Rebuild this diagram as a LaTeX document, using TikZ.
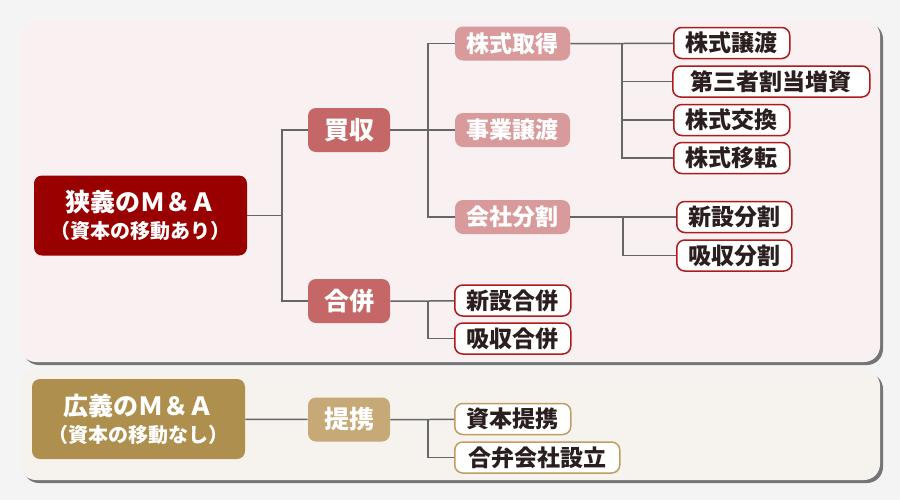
\documentclass[tikz,border=0pt]{standalone}
\usepackage{fontspec}
\setmainfont{Noto Sans CJK JP}
\usetikzlibrary{shadows}
\definecolor{bggray}{HTML}{F4F4F4}
\definecolor{panelred}{HTML}{F9F0F1}
\definecolor{panelgold}{HTML}{F6F3EE}
\definecolor{deepred}{HTML}{990000}
\definecolor{midred}{HTML}{C56767}
\definecolor{palered}{HTML}{D89A9B}
\definecolor{leafred}{HTML}{AD1C1C}
\definecolor{deepgold}{HTML}{AF8F4E}
\definecolor{midgold}{HTML}{C6A977}
\definecolor{leafgold}{HTML}{C09D62}
\definecolor{linegray}{HTML}{666666}
\definecolor{inkdark}{HTML}{2B1E1E}
\tikzset{
  panel/.style={rounded corners=8pt, drop shadow={shadow xshift=1.5pt, shadow yshift=-1.5pt, opacity=0.7, fill=black!75}},
  topbox/.style={rounded corners=4pt, text=white, align=center, font=\bfseries, minimum width=106.5pt, minimum height=40pt, inner sep=0pt},
  midbox/.style={rounded corners=4pt, text=white, font=\bfseries\fontsize{12.5}{14}\selectfont, minimum width=41pt, minimum height=22pt, inner sep=0pt},
  subbox/.style={rounded corners=4pt, fill=palered, text=white, font=\bfseries\fontsize{11.5}{13}\selectfont, minimum width=57.5pt, minimum height=17pt, inner sep=0pt},
  leafbox/.style={rounded corners=4pt, fill=white, draw=#1, line width=0.75pt, text=inkdark, font=\bfseries\fontsize{11.5}{13}\selectfont, minimum height=15.5pt, inner sep=0pt, anchor=west},
  conn/.style={draw=linegray, line width=0.75pt}
}
\begin{document}
\begin{tikzpicture}[x=0.5pt, y=-0.5pt]
\useasboundingbox (0,0) rectangle (900,500);
\fill[bggray] (0,0) rectangle (900,500);
\fill[panelred, panel] (20,20) rectangle (880,362);
\fill[panelgold, panel] (20,370) rectangle (880,480);

\node[topbox, fill=deepred] (narrow) at (140.5,215.5) {{\fontsize{12.5}{14}\selectfont 狭義のＭ＆Ａ}\\[1.5pt]{\fontsize{10}{11}\selectfont （資本の移動あり）}};
\node[midbox, fill=midred] (kaishu) at (349,130) {買収};
\node[midbox, fill=midred] (gappei) at (349,301) {合併};
\node[subbox] (kabushu) at (512.5,43.5) {株式取得};
\node[subbox] (jigyo) at (512.5,130) {事業譲渡};
\node[subbox] (bunkatsu) at (512.5,217) {会社分割};
\node[leafbox=leafred, minimum width=58pt] (joto) at (673,43) {株式譲渡};
\node[leafbox=leafred, minimum width=98.5pt] (zoshi) at (672,81.5) {第三者割当増資};
\node[leafbox=leafred, minimum width=58pt] (kokan) at (673,120) {株式交換};
\node[leafbox=leafred, minimum width=58pt] (iten) at (673,158) {株式移転};
\node[leafbox=leafred, minimum width=57.5pt] (shinbun) at (676,217) {新設分割};
\node[leafbox=leafred, minimum width=57.5pt] (kyubun) at (676,255.5) {吸収分割};
\node[leafbox=leafred, minimum width=58pt] (shingap) at (454,300.5) {新設合併};
\node[leafbox=leafred, minimum width=58pt] (kyugap) at (454,338.5) {吸収合併};

\node[topbox, fill=deepgold] (broad) at (138.5,419) {{\fontsize{12.5}{14}\selectfont 広義のＭ＆Ａ}\\[1.5pt]{\fontsize{10}{11}\selectfont （資本の移動なし）}};
\node[midbox, fill=midgold] (teikei) at (349,419.5) {提携};
\node[leafbox=leafgold, minimum width=58pt] (shihon) at (454,419) {資本提携};
\node[leafbox=leafgold, minimum width=82.5pt] (goben) at (454,457.5) {合弁会社設立};

\coordinate (jA) at (282,215.5);
\coordinate (jB) at (428,130);
\coordinate (jC) at (622,43.5);
\coordinate (jD) at (623,217);
\coordinate (jE) at (428,301);
\coordinate (jF) at (428,419.5);

\draw[conn] (narrow) -- (jA) |- (kaishu);
\draw[conn] (jA) |- (gappei);
\draw[conn] (kaishu) -- (jB) |- (kabushu);
\draw[conn] (jB) -- (jigyo);
\draw[conn] (jB) |- (bunkatsu);
\draw[conn] (kabushu) -- (jC) -- (joto);
\draw[conn] (jC) |- (zoshi);
\draw[conn] (jC) |- (kokan);
\draw[conn] (jC) |- (iten);
\draw[conn] (bunkatsu) -- (jD) -- (shinbun);
\draw[conn] (jD) |- (kyubun);
\draw[conn] (gappei) -- (jE) -- (shingap);
\draw[conn] (jE) |- (kyugap);
\draw[conn] (broad) -- (teikei);
\draw[conn] (teikei) -- (jF) -- (shihon);
\draw[conn] (jF) |- (goben);
\end{tikzpicture}
\end{document}
